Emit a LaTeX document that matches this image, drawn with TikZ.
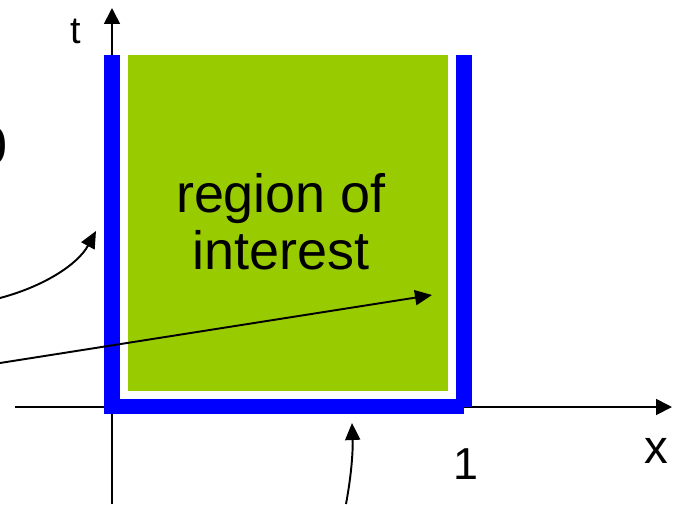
\documentclass[tikz,border=0pt]{standalone}
\usepackage{fontspec}
\setmainfont{Liberation Sans}
\usetikzlibrary{positioning,arrows.meta,calc}
\definecolor{regiongreen}{HTML}{99CC00}
\definecolor{edgeblue}{HTML}{0000FF}
\tikzset{
  axisline/.style={-{Triangle[length=0.32cm, width=0.32cm]}, line width=1pt},
  pointarrow/.style={-{Triangle[length=0.34cm, width=0.3cm]}, line width=1.1pt},
  edgebar/.style={fill=edgeblue, draw=none},
  regionbox/.style={fill=regiongreen, draw=none},
  biglabel/.style={font=\fontsize{30.7}{32.3}\selectfont, inner sep=0pt, align=center},
  axislabel/.style={font=\fontsize{27}{30}\selectfont, inner sep=0pt}
}
\begin{document}
\begin{tikzpicture}[x=0.02cm, y=-0.02cm]
  \useasboundingbox (0,0) rectangle (683,504);
  \coordinate (xstart) at (15,407);
  \coordinate (xend) at (672,407);
  \coordinate (tstart) at (112,504);
  \coordinate (tend) at (112,8);
  \draw[axisline] (xstart) -- (xend);
  \draw[axisline] (tstart) -- (tend);
  \fill[regionbox] (128,55) rectangle (448,391);
  \fill[edgebar] (104,55) rectangle (120,414);
  \fill[edgebar] (104,399) rectangle (464,414);
  \fill[edgebar] (456,55) rectangle (472,407);
  \node[biglabel] (roi) at (281,222) {region of\\interest};
  \node[axislabel, anchor=base, font=\fontsize{21.5}{24}\selectfont] (tlab) at (76,43) {t};
  \node[axislabel, anchor=base] (xlab) at (656,463) {x};
  \node[axislabel, anchor=base, font=\fontsize{25.5}{28}\selectfont] (onelab) at (466,479) {1};
  \node[biglabel, anchor=base east] (zerolab) at (7.6,164) {0};
  \coordinate (a1s) at (0,298);
  \coordinate (a1e) at (96,231);
  \coordinate (a2s) at (0,363);
  \coordinate (a2e) at (432,295);
  \coordinate (a3s) at (346,504);
  \coordinate (a3e) at (352,423);
  \draw[pointarrow] (a1s) .. controls (45,286) and (78,264) .. (a1e);
  \draw[pointarrow] (a2s) -- (a2e);
  \draw[pointarrow] (a3s) .. controls (352,472) and (353,448) .. (a3e);
\end{tikzpicture}
\end{document}
